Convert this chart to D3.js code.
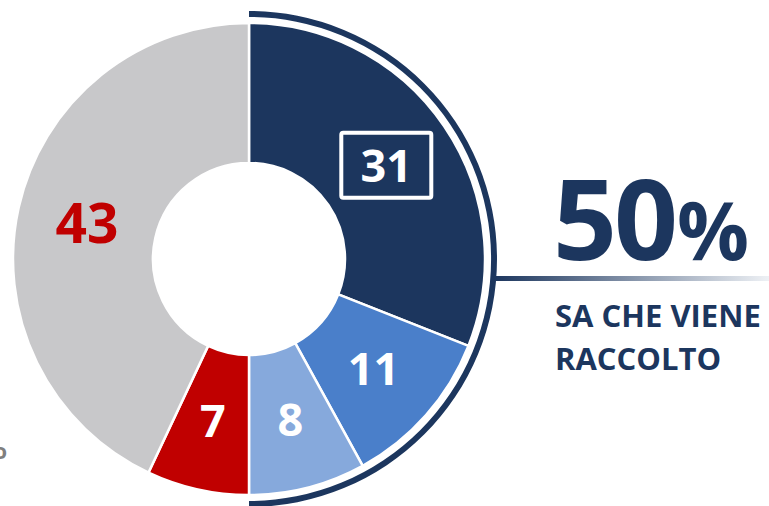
<!DOCTYPE html>
<html>
<head>
<meta charset="utf-8">
<script src="https://cdn.jsdelivr.net/npm/d3@7"></script>
<style>
  html, body { margin: 0; padding: 0; background: #fff; }
  svg { display: block; }
</style>
</head>
<body>
<svg id="chart"></svg>
<script>
// slices clockwise from 12 o'clock
var sliceValues = [31, 11, 8, 7, 43];
var sliceColors = ['#1c365e', '#4a7fca', '#86a9dc', '#c00000', '#c8c8ca'];
var labelColors = ['#fff', '#fff', '#fff', '#fff', '#c00000'];
var highlightCount = 3;   // first three slices = "sa che viene raccolto"
var headline = 'SA CHE VIENE';
var headline2 = 'RACCOLTO';

var width = 769, height = 506;
var cx = 249, cy = 259;
var navy = '#1c365e';
var font = '"Open Sans", Lato, sans-serif';

var svg = d3.select('#chart')
    .attr('width', width)
    .attr('height', height);

var defs = svg.append('defs');
var grad = defs.append('linearGradient')
    .attr('id', 'fade')
    .attr('x1', '0%').attr('x2', '100%')
    .attr('y1', '0%').attr('y2', '0%');
grad.append('stop').attr('offset', '0%').attr('stop-color', navy);
grad.append('stop').attr('offset', '100%').attr('stop-color', '#eef1f5');

var pie = d3.pie().sort(null).startAngle(0).endAngle(2 * Math.PI);
var arcs = pie(sliceValues);

var arc = d3.arc().innerRadius(96).outerRadius(236);
var labelArc = d3.arc().innerRadius(166).outerRadius(166);

var g = svg.append('g').attr('transform', 'translate(' + cx + ',' + cy + ')');

g.selectAll('path.slice')
    .data(arcs)
    .enter()
    .append('path')
    .attr('class', 'slice')
    .attr('d', arc)
    .attr('fill', function (d, i) { return sliceColors[i]; })
    .attr('stroke', '#fff')
    .attr('stroke-width', 2.5);

// outer ring over the highlighted share
var ringEnd = arcs[highlightCount - 1].endAngle;
g.append('path')
    .attr('d', d3.arc().innerRadius(242).outerRadius(248).startAngle(0).endAngle(ringEnd)())
    .attr('fill', navy);

// connector line with fade
svg.append('rect')
    .attr('x', cx + 245)
    .attr('y', 276)
    .attr('width', width - (cx + 245))
    .attr('height', 5)
    .attr('fill', 'url(#fade)');

// slice labels
var labels = g.selectAll('g.lbl')
    .data(arcs)
    .enter()
    .append('g')
    .attr('class', 'lbl')
    .attr('transform', function (d) {
        var c = labelArc.centroid(d);
        return 'translate(' + c[0] + ',' + c[1] + ')';
    });

labels.append('text')
    .attr('text-anchor', 'middle')
    .attr('dy', '0.36em')
    .attr('font-family', font)
    .attr('font-weight', 700)
    .attr('font-size', function (d, i) { return i == 4 ? 55 : 45; })
    .attr('fill', function (d, i) { return labelColors[i]; })
    .text(function (d) { return d.data; });

// box around the first label
labels.filter(function (d, i) { return i == 0; })
    .append('rect')
    .attr('x', -45).attr('y', -33)
    .attr('width', 90).attr('height', 65)
    .attr('rx', 2)
    .attr('fill', 'none')
    .attr('stroke', '#fff')
    .attr('stroke-width', 4);

// big percentage
var pct = d3.sum(sliceValues.slice(0, highlightCount)) / d3.sum(sliceValues) * 100;
var big = svg.append('text')
    .attr('x', 553)
    .attr('y', 260)
    .attr('font-family', font)
    .attr('font-weight', 700)
    .attr('fill', navy);
big.append('tspan').attr('font-size', 112).attr('letter-spacing', -3).text(Math.round(pct));
big.append('tspan').attr('font-size', 80).attr('dx', 2).text('%');

svg.append('text')
    .attr('x', 555).attr('y', 327)
    .attr('font-family', font)
    .attr('font-weight', 700)
    .attr('font-size', 31)
    .attr('fill', navy)
    .text(headline);
svg.append('text')
    .attr('x', 555).attr('y', 370)
    .attr('font-family', font)
    .attr('font-weight', 700)
    .attr('font-size', 31)
    .attr('fill', navy)
    .text(headline2);

// clipped text fragment at the left edge
svg.append('text')
    .attr('x', 7).attr('y', 459)
    .attr('text-anchor', 'end')
    .attr('font-family', font)
    .attr('font-weight', 700)
    .attr('font-size', 22)
    .attr('fill', '#7f7f7f')
    .text('o');
</script>
</body>
</html>
